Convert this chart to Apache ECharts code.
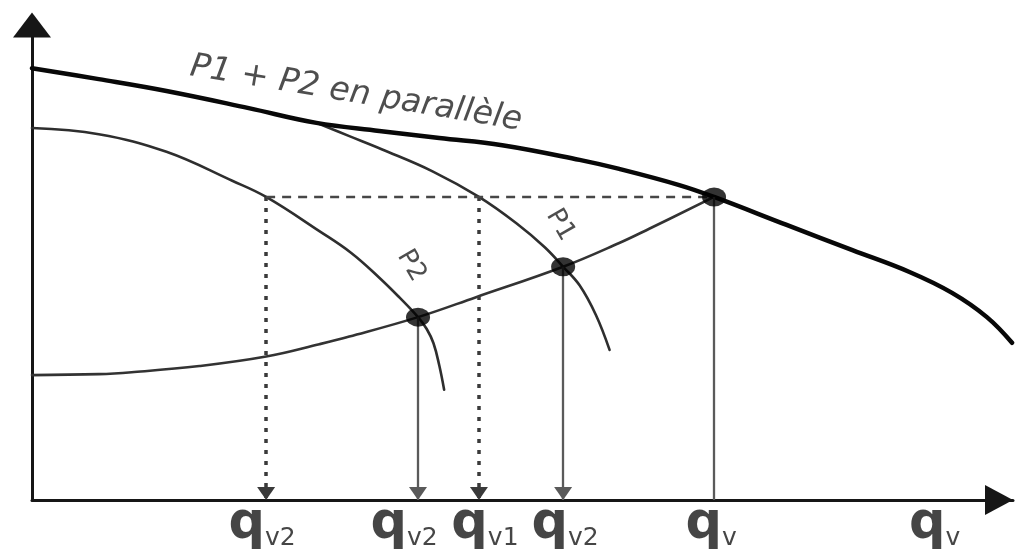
<!DOCTYPE html>
<html>
<head>
<meta charset="utf-8">
<script src="https://cdn.jsdelivr.net/npm/echarts@6/dist/echarts.min.js"></script>
<style>
  html, body { margin: 0; padding: 0; background: #fff; }
  #chart { width: 1015px; height: 552px; }
</style>
</head>
<body>
<div id="chart"></div>
<script>
// Head–flow curves of two pumps working in parallel (relative units)
const parallelCurve = [
  [0, 90.9], [6.9, 88.6], [13.9, 86.1], [22.4, 82.5], [29.4, 79.4], [35.9, 77.7],
  [42.1, 76.2], [48.6, 74.7], [56.6, 71.6], [60.7, 69.7], [66.9, 66.3], [70.5, 63.8],
  [78.0, 57.9], [84.8, 52.6], [90.7, 48.0], [95.1, 43.6], [98.7, 38.5], [101.3, 33.1]
];
const pump1Curve = [
  [29.4, 79.4], [32.8, 76.6], [36.2, 73.8], [41.4, 69.2], [46.2, 63.8], [50.1, 58.2],
  [53.0, 53.2], [54.9, 49.1], [56.6, 45.2], [58.3, 38.9], [59.7, 31.6]
];
const pump2Curve = [
  [0, 78.3], [6.9, 77.0], [13.9, 73.3], [20.7, 67.2], [24.2, 63.8], [29.7, 56.6],
  [33.0, 52.0], [35.9, 46.8], [38.0, 42.6], [39.9, 38.5], [40.8, 36.0], [41.5, 33.0],
  [42.1, 28.3], [42.6, 23.2]
];
const systemCurve = [
  [0, 26.3], [6.9, 26.5], [10.3, 26.9], [17.3, 28.2], [24.2, 30.2], [29.7, 32.8],
  [32.8, 34.4], [39.9, 38.5], [45.9, 42.7], [54.9, 49.1], [60.7, 54.1], [63.8, 57.1],
  [70.5, 63.8]
];
// Operating points: P2 alone, P1 alone, P1 + P2 in parallel
const operatingPoints = [[39.9, 38.5], [54.9, 49.1], [70.5, 63.8]];
// Flow delivered by each pump at the head of the parallel operating point (P2, P1)
const parallelHead = 63.8;
const flowsAtParallelHead = [24.2, 46.2];
// Flow labels along the horizontal axis
const flowTicks = [24.2, 39.9, 46.2, 54.9, 70.5, 93.3];
const flowTickSubs = ['v2', 'v2', 'v1', 'v2', 'v', 'v'];
const flowTickShift = [-4, -14, 6, 2, -3, 0];
// Curve names
const curveTitles = ['P1 + P2 en parallèle', 'P1', 'P2'];

const FONT = 'DejaVu Sans';
const INK = '#161616';
const chart = echarts.init(document.getElementById('chart'), null, { renderer: 'canvas' });

const dropEnd = { symbol: 'triangle', symbolSize: [18, 13] };
const markLines = [];
// dotted drops from the parallel head to each pump's share
flowsAtParallelHead.forEach(q => {
  markLines.push([
    { coord: [q, parallelHead], symbol: 'none', lineStyle: { type: [4, 7], width: 3.5, color: '#3a3a3a' } },
    Object.assign({ coord: [q, 0] }, dropEnd)
  ]);
});
// solid drops from single-pump operating points
operatingPoints.slice(0, 2).forEach(p => {
  markLines.push([
    { coord: p, symbol: 'none', lineStyle: { type: 'solid', width: 2.3, color: '#5a5a5a' } },
    Object.assign({ coord: [p[0], 0] }, dropEnd)
  ]);
});
// parallel operating point: plain drop, no arrow
const op = operatingPoints[2];
markLines.push([
  { coord: op, symbol: 'none', lineStyle: { type: 'solid', width: 2.3, color: '#5a5a5a' } },
  { coord: [op[0], 0], symbol: 'none' }
]);
// dashed head line joining the shares to the parallel operating point
markLines.push([
  { coord: [flowsAtParallelHead[0], parallelHead], symbol: 'none', lineStyle: { type: [9, 7], width: 2.4, color: '#474747' } },
  { coord: [op[0], parallelHead], symbol: 'none' }
]);

const curveLine = (name, data, width, color, z) => ({
  name, type: 'line', data, smooth: 0.4,
  showSymbol: false, symbol: 'none', clip: false, z, silent: true,
  lineStyle: { width, color, cap: 'round', join: 'round' }
});

chart.setOption({
  animation: false,
  backgroundColor: '#fff',
  grid: { left: 32, right: 2, top: 25, bottom: 52 },
  xAxis: {
    type: 'value', min: 0, max: 101.4,
    axisLine: {
      show: true, lineStyle: { color: INK, width: 3 },
      symbol: ['none', 'triangle'], symbolSize: [30, 28], symbolOffset: [0, -14]
    },
    axisTick: { show: false }, axisLabel: { show: false }, splitLine: { show: false }
  },
  yAxis: {
    type: 'value', min: 0, max: 100,
    axisLine: {
      show: true, lineStyle: { color: INK, width: 3 },
      symbol: ['none', 'triangle'], symbolSize: [38, 25]
    },
    axisTick: { show: false }, axisLabel: { show: false }, splitLine: { show: false }
  },
  series: [
    curveLine('Réseau', systemCurve, 2.6, '#333', 2),
    curveLine('P2', pump2Curve, 2.6, '#2e2e2e', 2),
    curveLine('P1', pump1Curve, 2.6, '#2e2e2e', 2),
    curveLine(curveTitles[0], parallelCurve, 4.5, '#080808', 3),
    {
      name: 'points', type: 'scatter', z: 6, silent: true,
      symbol: 'circle', symbolSize: [24, 19],
      itemStyle: { color: '#000' },
      data: operatingPoints,
      markLine: {
        silent: true, animation: false,
        symbol: ['none', 'none'],
        symbolOffset: [0, [0, 6.5]],
        label: { show: false },
        emphasis: { disabled: true },
        data: markLines
      }
    },
    {
      name: 'flowLabels', type: 'scatter', z: 7, silent: true,
      symbolSize: 0,
      data: flowTicks.map((q, i) => ({
        value: [q, 0],
        label: { formatter: '{q|q}{s|' + flowTickSubs[i] + '}', offset: [flowTickShift[i], -1] }
      })),
      label: {
        show: true, position: 'bottom', distance: 0,
        rich: {
          q: { fontSize: 51, fontWeight: 'bold', fontFamily: FONT, color: INK, lineHeight: 52 },
          s: { fontSize: 25, fontFamily: FONT, color: INK, lineHeight: 14, verticalAlign: 'bottom' }
        }
      }
    },
    {
      name: 'curveTitles', type: 'scatter', z: 7, silent: true,
      symbolSize: 0,
      data: [
        { value: [33.5, 85.5], name: curveTitles[0], label: { rotate: -9.4, fontSize: 33, fontStyle: 'italic', color: '#222' } },
        { value: [54.6, 57.9], name: curveTitles[1], label: { rotate: -60, fontSize: 26, color: '#222' } },
        { value: [39.2, 49.3], name: curveTitles[2], label: { rotate: -60, fontSize: 26, color: '#222' } }
      ],
      label: { show: true, position: 'inside', formatter: '{b}', fontFamily: FONT }
    }
  ]
});
</script>
</body>
</html>
